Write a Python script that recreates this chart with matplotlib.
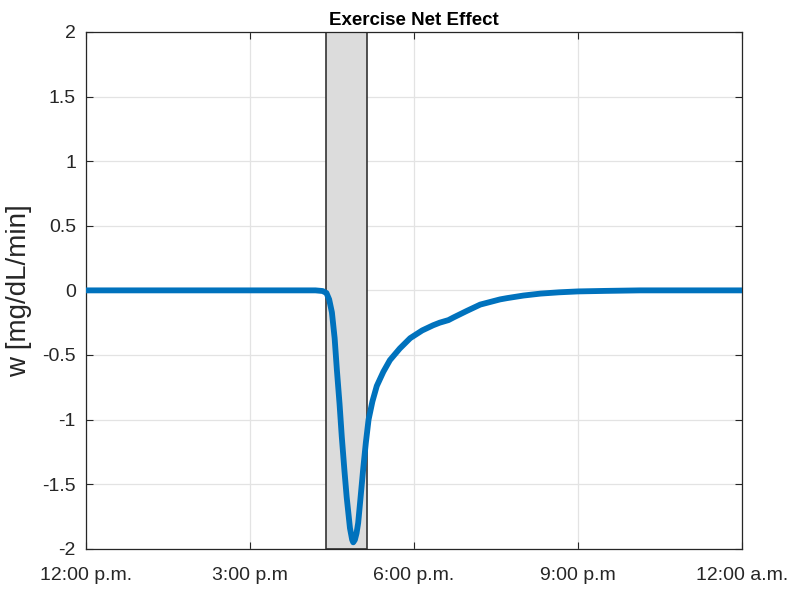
import matplotlib.pyplot as plt
import numpy as np

# time in hours after 12:00 p.m.
hours = [0.0, 4.2, 4.33, 4.40, 4.45, 4.50, 4.55, 4.59, 4.64, 4.68, 4.73, 4.77,
         4.83, 4.87, 4.89, 4.92, 4.95, 4.98, 5.02, 5.07, 5.12, 5.17, 5.24,
         5.32, 5.44, 5.56, 5.74, 5.93, 6.15, 6.35, 6.47, 6.55, 6.63, 6.72,
         6.96, 7.21, 7.57, 7.70, 8.0, 8.31, 8.65, 9.0, 9.5, 10.13, 11.0, 12.0]
w = [0.0, 0.0, -0.005, -0.02, -0.07, -0.17, -0.37, -0.61, -0.88, -1.13, -1.40, -1.60,
     -1.84, -1.93, -1.95, -1.93, -1.88, -1.80, -1.62, -1.39, -1.18, -1.00, -0.86,
     -0.74, -0.63, -0.54, -0.45, -0.37, -0.31, -0.27, -0.25, -0.24, -0.23, -0.21,
     -0.16, -0.11, -0.07, -0.06, -0.04, -0.025, -0.015, -0.008, -0.004, 0.0, 0.0, 0.0]

exercise_window = [4.40, 5.15]
xticks = [0, 3, 6, 9, 12]
xtick_labels = ["12:00 p.m.", "3:00 p.m", "6:00 p.m.", "9:00 p.m", "12:00 a.m."]
yticks = [-2, -1.5, -1, -0.5, 0, 0.5, 1, 1.5, 2]

plt.rcParams['font.family'] = ['Liberation Sans', 'DejaVu Sans']
plt.rcParams['axes.unicode_minus'] = False

fig = plt.figure(figsize=(8, 5.92), dpi=100)
ax = fig.add_axes([0.107, 0.073, 0.821, 0.873])

ax.axvspan(exercise_window[0], exercise_window[1], facecolor='#dcdcdc',
           edgecolor='#333333', linewidth=1.2, zorder=1)
ax.plot(hours, w, color='#0072BD', linewidth=4.2, solid_capstyle='round', zorder=3)

ax.set_xlim(0, 12)
ax.set_ylim(-2, 2)
ax.set_xticks(xticks)
ax.set_xticklabels(xtick_labels)
ax.set_yticks(yticks)
ax.set_yticklabels([f"{v:g}" for v in yticks])
ax.tick_params(direction='in', top=True, right=True, labelsize=14, length=5,
               color='#262626', labelcolor='#262626')
ax.tick_params(axis='x', pad=13)
ax.tick_params(axis='y', pad=7)
ax.grid(True, color='#e3e3e3', linewidth=0.9, zorder=0)
ax.set_axisbelow(True)
for s in ax.spines.values():
    s.set_color('#262626')
    s.set_linewidth(0.9)

ax.set_ylabel('w [mg/dL/min]', fontsize=20, color='#262626')
ax.yaxis.set_label_coords(-0.081, 0.5)
ax.set_title('Exercise Net Effect', fontsize=13.5, fontweight='bold', pad=5)

fig.savefig('out.png', dpi=100)
